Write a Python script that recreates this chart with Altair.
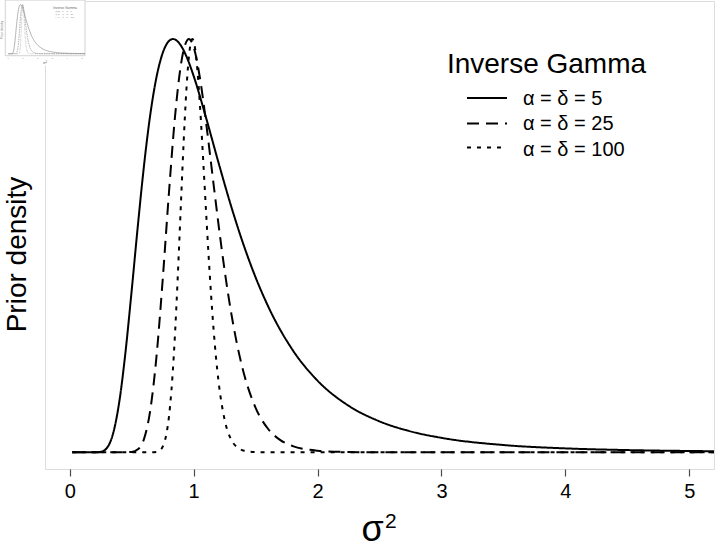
import altair as alt
import pandas as pd

# Inverse-gamma prior densities for sigma^2, each scaled so its mode sits at 1.
sigma2_a5 = [0.02, 0.1, 0.2, 0.25, 0.3, 0.35, 0.4, 0.45, 0.5, 0.55, 0.6, 0.65, 0.7,
             0.75, 0.8, 0.833, 0.9, 0.95, 1.0, 1.1, 1.2, 1.3, 1.4, 1.5, 1.6, 1.8,
             2.0, 2.25, 2.5, 2.75, 3.0, 3.5, 4.0, 4.5, 5.0, 5.2]
dens_a5 = [0.0, 0.0, 0.00003, 0.0011, 0.0107, 0.0459, 0.1229, 0.2432, 0.3926, 0.5500,
           0.6961, 0.8176, 0.9078, 0.9661, 0.9950, 1.0, 0.9828, 0.9519, 0.9104,
           0.8095, 0.7015, 0.5979, 0.5045, 0.4232, 0.3539, 0.2470, 0.1733, 0.1128,
           0.0749, 0.0507, 0.0350, 0.0176, 0.0095, 0.0054, 0.0032, 0.0026]

sigma2_a25 = [0.02, 0.3, 0.4, 0.5, 0.55, 0.6, 0.65, 0.7, 0.75, 0.8, 0.85, 0.9, 0.95,
              0.9615, 1.0, 1.05, 1.1, 1.15, 1.2, 1.25, 1.3, 1.35, 1.4, 1.5, 1.6, 1.7,
              1.8, 2.0, 2.2, 2.5, 3.0, 4.0, 5.2]
dens_a25 = [0.0, 0.0, 0.0, 0.0009, 0.0072, 0.0332, 0.1022, 0.2321, 0.4176, 0.6263,
            0.8139, 0.9436, 0.9981, 1.0, 0.9804, 0.9069, 0.7984, 0.6753, 0.5525,
            0.4398, 0.3424, 0.2617, 0.1969, 0.1077, 0.0570, 0.0295, 0.0151, 0.0039,
            0.0010, 0.0001, 0.0, 0.0, 0.0]

sigma2_a100 = [0.02, 0.5, 0.65, 0.7, 0.72, 0.75, 0.78, 0.8, 0.82, 0.84, 0.86, 0.88,
               0.9, 0.92, 0.94, 0.96, 0.98, 0.99, 1.0, 1.02, 1.04, 1.06, 1.08, 1.1,
               1.12, 1.14, 1.16, 1.18, 1.2, 1.25, 1.3, 1.35, 1.4, 1.5, 1.6, 2.0, 3.0,
               4.0, 5.2]
dens_a100 = [0.0, 0.0, 0.0, 0.0011, 0.0033, 0.0138, 0.0444, 0.0848, 0.1477, 0.2363,
             0.3496, 0.4818, 0.6221, 0.7564, 0.8706, 0.9525, 0.9947, 1.0, 0.9950,
             0.9567, 0.8868, 0.7947, 0.6902, 0.5825, 0.4786, 0.3836, 0.3005, 0.2305,
             0.1733, 0.0787, 0.0325, 0.0124, 0.0044, 0.0005, 0.0, 0.0, 0.0, 0.0, 0.0]

series_labels = ["α = δ = 5", "α = δ = 25", "α = δ = 100"]
tick_values = [0, 1, 2, 3, 4, 5]

rows = []
for label, xs, ds in zip(series_labels,
                         [sigma2_a5, sigma2_a25, sigma2_a100],
                         [dens_a5, dens_a25, dens_a100]):
    rows += [{"series": label, "sigma2": x, "density": d} for x, d in zip(xs, ds)]
df = pd.DataFrame(rows)
one = pd.DataFrame({"k": [0]})  # single row for annotation marks

FONT = "Liberation Sans"
X_DOMAIN = [-0.2, 5.2]
Y_DOMAIN = [-0.0404, 1.092]
DASHES = [[1, 0], [12, 7], [4, 6]]

# ---- main panel -----------------------------------------------------------
main_lines = alt.Chart(df).mark_line(
    color="black", strokeWidth=2, interpolate="monotone", clip=True
).encode(
    x=alt.X("sigma2:Q",
            scale=alt.Scale(domain=X_DOMAIN, nice=False, zero=False),
            axis=alt.Axis(values=tick_values, format="d", domain=False, grid=False,
                          tickColor="#4d4d4d", tickSize=7, tickWidth=1.2,
                          labelFont=FONT, labelFontSize=20, labelColor="black",
                          labelBaseline="alphabetic", labelPadding=21, labelFlush=False,
                          title="σ", titleFont=FONT, titleFontSize=36,
                          titleFontWeight="normal", titleColor="black",
                          titleAlign="center", titleX=327,
                          titleBaseline="alphabetic", titleY=71)),
    y=alt.Y("density:Q",
            scale=alt.Scale(domain=Y_DOMAIN, nice=False, zero=False),
            axis=alt.Axis(labels=False, ticks=False, domain=False, grid=False,
                          title="Prior density", titleFont=FONT, titleFontSize=28,
                          titleFontWeight="normal", titleColor="black",
                          titleAngle=270, titleAlign="center",
                          titleBaseline="alphabetic", titleX=-20, titleY=253)),
    strokeDash=alt.StrokeDash("series:N",
                              scale=alt.Scale(domain=series_labels, range=DASHES),
                              legend=None),
    detail="series:N",
)

# superscript of the x-axis title
x_title_sup = alt.Chart(one).mark_text(
    text="2", font=FONT, fontSize=21, align="left", baseline="alphabetic", color="black"
).encode(x=alt.value(340), y=alt.value(527))

legend_title = alt.Chart(one).mark_text(
    text="Inverse Gamma", font=FONT, fontSize=28, align="center",
    baseline="alphabetic", color="black"
).encode(x=alt.value(501.5), y=alt.value(72.3))

legend_layers = [legend_title]
for label, dash, y_line, y_text in zip(series_labels, DASHES,
                                       [97, 122.5, 146.5], [104, 129.3, 154.5]):
    legend_layers.append(
        alt.Chart(one).mark_rule(color="black", strokeWidth=2, strokeDash=dash)
        .encode(x=alt.value(422), x2=alt.value(462), y=alt.value(y_line))
    )
    legend_layers.append(
        alt.Chart(one).mark_text(text=label, font=FONT, fontSize=20, align="left",
                                 baseline="alphabetic", color="black")
        .encode(x=alt.value(478), y=alt.value(y_text))
    )

main = alt.layer(main_lines, x_title_sup, *legend_layers)

# ---- miniature copy in the top-left corner ---------------------------------
thumb_x = alt.Scale(domain=X_DOMAIN, range=[-39.7, 40], nice=False, zero=False)
thumb_y = alt.Scale(domain=Y_DOMAIN, range=[54.7, -0.9], nice=False, zero=False)
GREY = "#8f8f8f"
THUMB_DASHES = [[1, 0], [1.5, 0.9], [0.5, 0.8]]

thumb_bg = alt.Chart(one).mark_rect(fill="white").encode(
    x=alt.value(-45), x2=alt.value(40.5), y=alt.value(-1), y2=alt.value(64.5))
thumb_box = alt.Chart(one).mark_rect(fill="white", stroke="#b5b5b5", strokeWidth=0.6).encode(
    x=alt.value(-39.7), x2=alt.value(40), y=alt.value(-0.9), y2=alt.value(54.7))

thumb_lines = alt.Chart(df).mark_line(
    color=GREY, strokeWidth=0.7, interpolate="monotone"
).encode(
    x=alt.X("sigma2:Q", scale=thumb_x, axis=None),
    y=alt.Y("density:Q", scale=thumb_y, axis=None),
    strokeDash=alt.StrokeDash("series:N",
                              scale=alt.Scale(domain=series_labels, range=THUMB_DASHES),
                              legend=None),
    detail="series:N",
)

thumb_ticks = alt.Chart(pd.DataFrame({"t": tick_values})).mark_text(
    font=FONT, fontSize=2.4, color=GREY, baseline="alphabetic"
).encode(x=alt.X("t:Q", scale=thumb_x, axis=None), y=alt.value(58.2), text="t:Q")

thumb_texts = [
    alt.Chart(one).mark_text(text="Inverse Gamma", font=FONT, fontSize=3.3,
                             color="#666", baseline="alphabetic")
    .encode(x=alt.value(20), y=alt.value(7.7)),
    alt.Chart(one).mark_text(text="Prior density", font=FONT, fontSize=3.3, angle=270,
                             color="#777", baseline="alphabetic")
    .encode(x=alt.value(-42.0), y=alt.value(29)),
    alt.Chart(one).mark_text(text="σ²", font=FONT, fontSize=4.3, color="#777",
                             baseline="alphabetic")
    .encode(x=alt.value(0), y=alt.value(63.2)),
]
for label, dash, y_line, y_text in zip(series_labels, THUMB_DASHES,
                                       [10.7, 13.6, 16.6], [11.5, 14.4, 17.4]):
    thumb_texts.append(
        alt.Chart(one).mark_rule(color=GREY, strokeWidth=0.5, strokeDash=dash)
        .encode(x=alt.value(10.6), x2=alt.value(15.4), y=alt.value(y_line)))
    thumb_texts.append(
        alt.Chart(one).mark_text(text=label, font=FONT, fontSize=2.4, color=GREY,
                                 align="left", baseline="alphabetic")
        .encode(x=alt.value(17.3), y=alt.value(y_text)))

thumb = alt.layer(thumb_bg, thumb_box, thumb_lines, thumb_ticks, *thumb_texts)

chart = alt.layer(main, thumb).resolve_scale(
    x="independent", y="independent", strokeDash="independent"
).properties(
    width=669, height=468,
    autosize=alt.AutoSizeParams(type="none"),
    padding={"left": 45, "top": 1, "right": 2, "bottom": 79},
    background="white",
).configure_view(
    stroke="#4d4d4d", strokeWidth=1.5
).configure(font=FONT)

chart.save("out.html", embed_options={"renderer": "svg", "actions": False})
